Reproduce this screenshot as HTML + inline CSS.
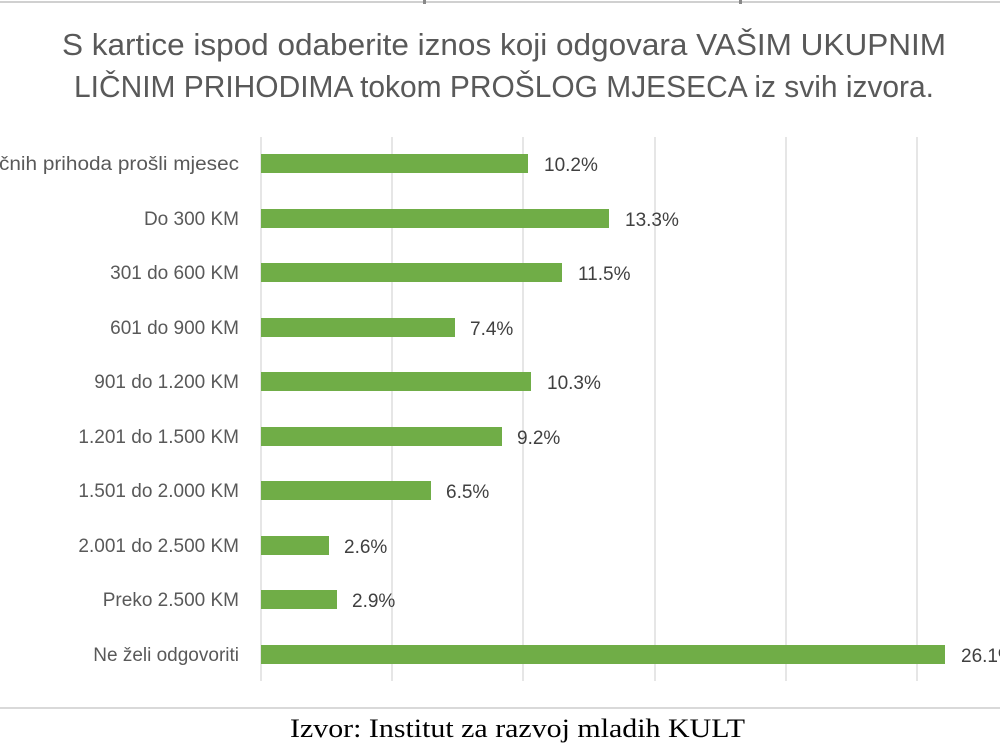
<!DOCTYPE html>
<html><head><meta charset="utf-8"><style>html,body{margin:0;padding:0;background:#fff}svg{display:block}</style></head>
<body>
<svg width="1000" height="750" viewBox="0 0 1000 750" xmlns="http://www.w3.org/2000/svg" font-family="Liberation Sans, sans-serif">
<line x1="0" y1="2" x2="1000" y2="2" stroke="#d0d0d0" stroke-width="2"/>
<rect x="423" y="0" width="3" height="4" fill="#888"/>
<rect x="739" y="0" width="3" height="4" fill="#888"/>
<text x="504" y="55" text-anchor="middle" font-size="31" fill="#595959" textLength="884" lengthAdjust="spacingAndGlyphs">S kartice ispod odaberite iznos koji odgovara VAŠIM UKUPNIM</text>
<text x="504" y="97" text-anchor="middle" font-size="31" fill="#595959" textLength="860" lengthAdjust="spacingAndGlyphs">LIČNIM PRIHODIMA tokom PROŠLOG MJESECA iz svih izvora.</text>
<g stroke="#d9d9d9" stroke-width="1.3">
<line x1="261" y1="137" x2="261" y2="681"/><line x1="392" y1="137" x2="392" y2="681"/><line x1="523" y1="137" x2="523" y2="681"/><line x1="655" y1="137" x2="655" y2="681"/><line x1="786" y1="137" x2="786" y2="681"/><line x1="917" y1="137" x2="917" y2="681"/>
</g>
<g fill="#70ad47">
<rect x="261" y="154" width="267" height="19"/>
<rect x="261" y="209" width="348" height="19"/>
<rect x="261" y="263" width="301" height="19"/>
<rect x="261" y="318" width="194" height="19"/>
<rect x="261" y="372" width="270" height="19"/>
<rect x="261" y="427" width="241" height="19"/>
<rect x="261" y="481" width="170" height="19"/>
<rect x="261" y="536" width="68" height="19"/>
<rect x="261" y="590" width="76" height="19"/>
<rect x="261" y="645" width="684" height="19"/>
</g>
<g font-size="19" fill="#595959" text-anchor="end">
<text x="239" y="170" textLength="240" lengthAdjust="spacingAndGlyphs">čnih prihoda prošli mjesec</text>
<text x="239" y="225">Do 300 KM</text>
<text x="239" y="279">301 do 600 KM</text>
<text x="239" y="334">601 do 900 KM</text>
<text x="239" y="388">901 do 1.200 KM</text>
<text x="239" y="443">1.201 do 1.500 KM</text>
<text x="239" y="497">1.501 do 2.000 KM</text>
<text x="239" y="552">2.001 do 2.500 KM</text>
<text x="239" y="606">Preko 2.500 KM</text>
<text x="239" y="661">Ne želi odgovoriti</text>
</g>
<g font-size="19" fill="#404040">
<text x="544" y="171">10.2%</text>
<text x="625" y="226">13.3%</text>
<text x="578" y="280">11.5%</text>
<text x="470" y="335">7.4%</text>
<text x="547" y="389">10.3%</text>
<text x="517" y="444">9.2%</text>
<text x="446" y="498">6.5%</text>
<text x="344" y="553">2.6%</text>
<text x="352" y="607">2.9%</text>
<text x="961" y="662">26.1%</text>
</g>
<line x1="0" y1="708" x2="1000" y2="708" stroke="#d9d9d9" stroke-width="2"/>
<text x="290" y="737" font-family="Liberation Serif, serif" font-size="26" fill="#000" textLength="455" lengthAdjust="spacingAndGlyphs">Izvor: Institut za razvoj mladih KULT</text>
</svg>
</body></html>
